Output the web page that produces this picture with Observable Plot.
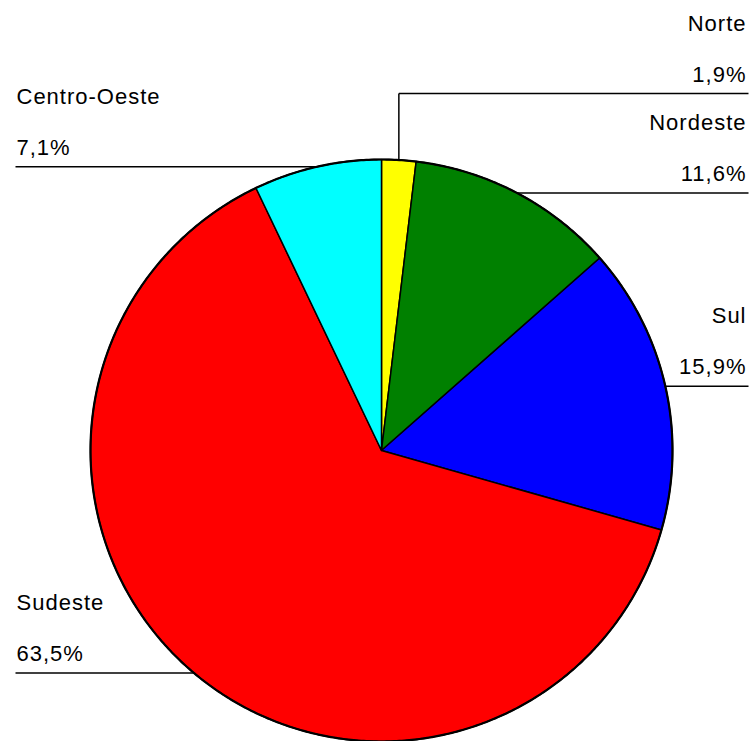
<!DOCTYPE html>
<html>
<head>
<meta charset="utf-8">
<script src="https://cdn.jsdelivr.net/npm/d3@7"></script>
<script src="https://cdn.jsdelivr.net/npm/@observablehq/plot@0.6"></script>
<style>
  html, body { margin: 0; padding: 0; background: #fff; }
</style>
</head>
<body>
<div id="chart"></div>
<script>
// Data
const regions = ["Norte", "Nordeste", "Sul", "Sudeste", "Centro-Oeste"];
const shares = [1.9, 11.6, 15.9, 63.5, 7.1];
const colors = ["#ffff00", "#008000", "#0000ff", "#ff0000", "#00ffff"];

// Layout
const W = 751, H = 741;
const cx = 381, cy = 450, R = 291;

const fmt = v => v.toFixed(1).replace(".", ",") + "%";
const arcs = d3.pie().sort(null).value(d => d.share)
  .startAngle(0).endAngle(2 * Math.PI)(regions.map((r, i) => ({region: r, share: shares[i]})));
const pt = (a, r = R) => [cx + r * Math.sin(a), cy - r * Math.cos(a)];

// Slice polygons
const slicePts = [];
arcs.forEach(a => {
  const reg = a.data.region;
  slicePts.push({region: reg, x: cx, y: cy});
  const n = Math.max(2, Math.ceil((a.endAngle - a.startAngle) / (Math.PI / 360)));
  for (let k = 0; k <= n; k++) {
    const t = a.startAngle + (a.endAngle - a.startAngle) * k / n;
    const [x, y] = pt(t);
    slicePts.push({region: reg, x, y});
  }
  slicePts.push({region: reg, x: cx, y: cy});
});
// Outer outline
const outline = d3.range(0, 721).map(k => {
  const [x, y] = pt(k * Math.PI / 360);
  return {x, y};
});

// Leader lines and labels
const links = [], labels = [];
arcs.forEach((a, i) => {
  const mid = (a.startAngle + a.endAngle) / 2;
  const [ex, ey] = pt(mid);
  const right = mid < Math.PI;
  const reg = a.data.region;
  let ly = ey;
  if (i === 0) {
    // small top slice: vertical leader up to the label line
    ly = 93;
    links.push({x1: ex, y1: ey, x2: ex, y2: ly});
  }
  links.push({x1: ex, y1: ly, x2: right ? 748 : 15, y2: ly});
  const tx = right ? 746 : 16;
  labels.push({x: tx, y: ly - 63, text: reg, anchor: right ? "end" : "start"});
  labels.push({x: tx, y: ly - 12, text: fmt(a.data.share), anchor: right ? "end" : "start"});
});

const chart = Plot.plot({
  width: W, height: H,
  margin: 0,
  x: {domain: [0, W], range: [0, W], axis: null},
  y: {domain: [0, H], range: [0, H], axis: null},
  color: {domain: regions, range: colors},
  style: {fontFamily: "'Liberation Sans', Arial, sans-serif", background: "#fff", letterSpacing: "1px"},
  marks: [
    Plot.line(slicePts, {x: "x", y: "y", z: "region", fill: "region", stroke: "#000", strokeWidth: 1.5, strokeLinejoin: "miter", curve: "linear"}),
    Plot.line(outline, {x: "x", y: "y", stroke: "#000", strokeWidth: 2.2}),
    Plot.link(links, {x1: "x1", y1: "y1", x2: "x2", y2: "y2", stroke: "#000", strokeWidth: 1.5}),
    Plot.text(labels.filter(d => d.anchor === "end"), {x: "x", y: "y", text: "text", textAnchor: "end", lineAnchor: "bottom", fontSize: 22, fill: "#000"}),
    Plot.text(labels.filter(d => d.anchor === "start"), {x: "x", y: "y", text: "text", textAnchor: "start", lineAnchor: "bottom", fontSize: 22, fill: "#000"})
  ]
});
document.getElementById("chart").appendChild(chart);
</script>
</body>
</html>
